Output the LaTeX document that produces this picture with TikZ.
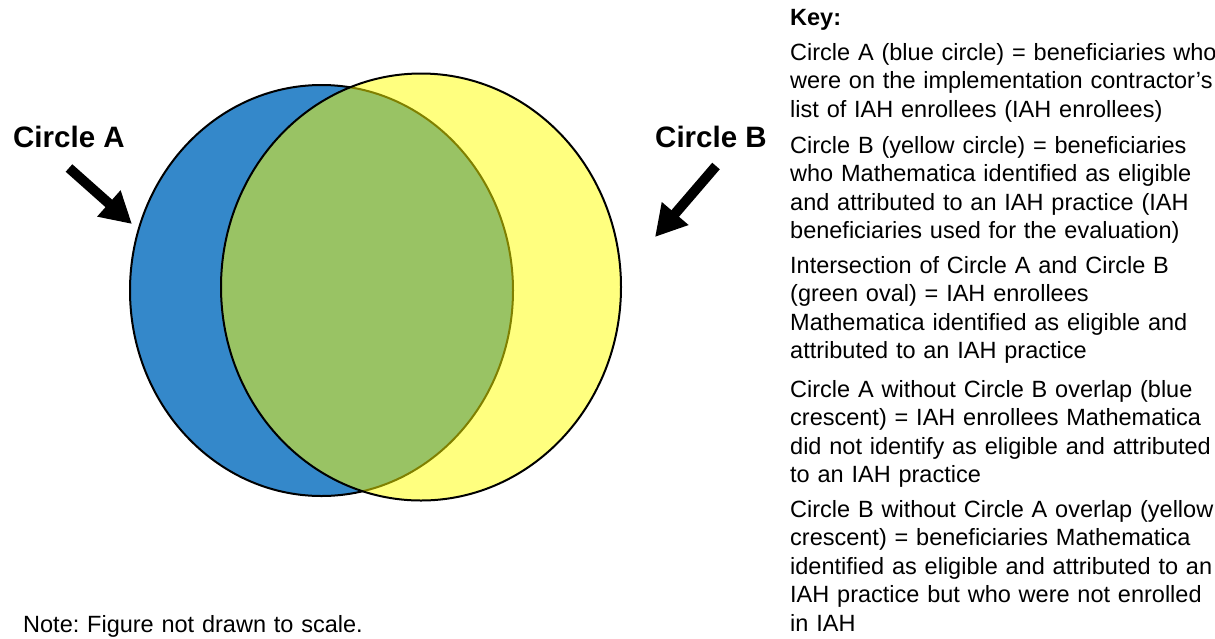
\documentclass[tikz,border=0pt]{standalone}
\usepackage{fontspec}
\setmainfont{Liberation Sans}
\usetikzlibrary{arrows.meta,shapes.geometric}
\definecolor{cblue}{RGB}{52,136,202}
\definecolor{cyel}{RGB}{255,255,0}
\frenchspacing
\begin{document}
\begin{tikzpicture}[x=1pt,y=-1pt,
  venn/.style={ellipse, draw=black, line width=2pt, inner sep=0pt, outer sep=0pt},
  bigarrow/.style={line width=10pt, -{Triangle[width=33pt,length=31pt]}},
  lab/.style={anchor=base west, inner sep=0pt, font=\fontsize{29.5}{34}\selectfont\bfseries},
  keytext/.style={anchor=base west, inner sep=0pt, align=left, text width=440pt,
    font=\fontsize{23.5}{28.5}\selectfont}]
\useasboundingbox[fill=white] (0,0) rectangle (1215,638);
% circles
\node[venn, fill=cblue, minimum width=383pt, minimum height=411pt] (A) at (321.5,290.5) {};
\node[venn, fill=cyel, fill opacity=0.5, minimum width=400pt, minimum height=427pt] (B) at (421,287) {};
% labels and arrows
\node[lab] (labA) at (13,147) {Circle A};
\node[lab] (labB) at (655,147) {Circle B};
\coordinate (aT) at (69,168);
\coordinate (aH) at (132,224);
\coordinate (bT) at (716,166);
\coordinate (bH) at (655,237);
\draw[bigarrow] (aT) -- (aH);
\draw[bigarrow] (bT) -- (bH);
% key
\node[keytext, font=\fontsize{23.5}{28.5}\selectfont\bfseries] (k0) at (790,25) {Key:};
\node[keytext] (k1) at (790,60) {Circle A (blue circle) = beneficiaries who\\were on the implementation contractor’s\\list of IAH enrollees (IAH enrollees)};
\node[keytext] (k2) at (790,153) {Circle B (yellow circle) = beneficiaries\\who Mathematica identified as eligible\\and attributed to an IAH practice (IAH\\beneficiaries used for the evaluation)};
\node[keytext] (k3) at (790,273) {Intersection of Circle A and Circle B\\(green oval) = IAH enrollees\\Mathematica identified as eligible and\\attributed to an IAH practice};
\node[keytext] (k4) at (790,397) {Circle A without Circle B overlap (blue\\crescent) = IAH enrollees Mathematica\\did not identify as eligible and attributed\\to an IAH practice};
\node[keytext] (k5) at (790,517) {Circle B without Circle A overlap (yellow\\crescent) = beneficiaries Mathematica\\identified as eligible and attributed to an\\IAH practice but who were not enrolled\\in IAH};
% note
\node[keytext] (note) at (23,632) {Note: Figure not drawn to scale.};
\end{tikzpicture}
\end{document}
